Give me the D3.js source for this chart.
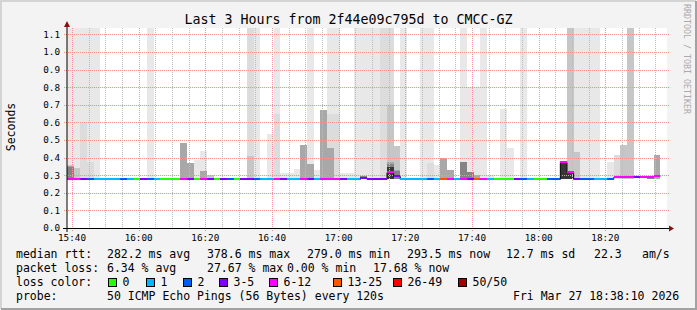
<!DOCTYPE html>
<html>
<head>
<meta charset="utf-8">
<script src="https://cdn.jsdelivr.net/npm/d3@7"></script>
<style>
  html, body { margin: 0; padding: 0; background: #f3f3f3; }
  svg { display: block; font-family: "DejaVu Sans Mono", monospace; }
</style>
</head>
<body>
<div id="chart"></div>
<script>
// 2 minute steps, 50 pings each
const stepStart = new Date(2026, 2, 27, 15, 38, 30);
const stepSeconds = 120;
const smokeFloor = 0.279;

const median = [
  0.281, 0.281, 0.281, 0.281, 0.281, 0.281, 0.281, 0.281, 0.281, 0.281,
  0.281, 0.281, 0.281, 0.281, 0.281, 0.281, 0.281, 0.281, 0.281, 0.281,
  0.281, 0.281, 0.281, 0.281, 0.281, 0.281, 0.281, 0.281, 0.281, 0.281,
  0.281, 0.281, 0.281, 0.281, 0.281, 0.281, 0.281, 0.281, 0.281, 0.281,
  0.281, 0.281, 0.281, 0.281, 0.283, 0.281, 0.281, 0.281, 0.320, 0.298,
  0.281, 0.281, 0.281, 0.281, 0.281, 0.281, 0.281, 0.281, 0.281, 0.281,
  0.281, 0.281, 0.281, 0.281, 0.281, 0.281, 0.281, 0.281, 0.281, 0.281,
  0.281, 0.281, 0.281, 0.281, 0.377, 0.320, 0.281, 0.281, 0.281, 0.281,
  0.281, 0.281, 0.291, 0.289, 0.291, 0.289, 0.291, 0.291, 0.2935
];

// lost pings out of 50
const lost = [
  8, 8, 4, 2, 1, 1, 1, 1, 2, 1,
  0, 4, 2, 1, 0, 0, 0, 8, 4, 0,
  7, 3, 0, 4, 2, 0, 4, 5, 2, 1,
  1, 6, 3, 1, 1, 9, 4, 1, 10, 8,
  7, 3, 1, 1, 4, 4, 3, 5, 11, 5,
  1, 1, 1, 1, 2, 1, 13.8, 9, 1, 10,
  5, 13, 8, 1, 0, 0, 0, 3, 2, 1,
  0, 0, 2, 2, 12, 9, 4, 2, 2, 1,
  1, 2, 7, 8, 6, 5, 7, 8, 8.8
];

// smoke: top of each ping band (seconds), 0 = no band
const pingMax = [
  1.2, 1.2, 1.2, 1.2, 1.2, 0, 0, 0, 0, 0,
  0, 0, 1.2, 0, 0, 0, 0, 0.485, 0.371, 0.386,
  0.44, 0.30, 0, 0, 0, 0, 0, 1.2, 1.2, 0,
  0.534, 1.2, 0.313, 0.313, 0.335, 0.472, 1.2, 0.33, 0.672, 1.2,
  1.2, 0.312, 0.312, 1.2, 1.2, 1.2, 1.2, 1.2, 1.2, 0.466,
  1.2, 0, 0, 1.2, 1.2, 0.358, 0.40, 0.33, 0, 1.2,
  0.80, 0.80, 1.2, 0.30, 0, 0.676, 0.456, 0, 1.2, 0,
  0, 0, 0, 0, 0.38, 1.2, 1.2, 1.2, 1.2, 1.2,
  0, 0.377, 0.415, 0.472, 1.2, 0, 0, 0.295, 0.415
];
const ping90 = [
  0.36, 0.34, 0.595, 0.377, 0, 0, 0, 0, 0, 0,
  0, 0, 0, 0, 0, 0, 0, 0.485, 0.371, 0,
  0.326, 0.30, 0, 0, 0, 0, 0, 1.2, 0, 0,
  0, 0.647, 0, 0, 0, 0.472, 0.364, 0, 0.672, 0.65,
  0.65, 0, 0, 0, 0.295, 0, 0, 1.2, 1.2, 0.466,
  0, 0, 0, 0, 0.37, 0, 0.40, 0.33, 0, 0.377,
  0.32, 0.30, 0, 0, 0, 0, 0, 0, 0, 0,
  0, 0, 0, 0, 0.38, 1.2, 0.434, 0, 0, 0,
  0, 0, 0.415, 0.472, 1.2, 0, 0, 0.295, 0.415
];
const ping75 = [
  0.36, 0.34, 0, 0, 0, 0, 0, 0, 0, 0,
  0, 0, 0, 0, 0, 0, 0, 0.485, 0.371, 0,
  0.326, 0.30, 0, 0, 0, 0, 0, 0.41, 0, 0,
  0, 0, 0, 0, 0, 0.472, 0.364, 0, 0.672, 0.456,
  0, 0, 0, 0, 0.295, 0, 0, 0, 0.70, 0.466,
  0, 0, 0, 0, 0, 0, 0.40, 0.33, 0, 0.377,
  0.32, 0.30, 0, 0, 0, 0, 0, 0, 0, 0,
  0, 0, 0, 0, 0.38, 1.2, 0.434, 0, 0, 0,
  0, 0, 0, 0.472, 1.2, 0, 0, 0.295, 0.415
];
const ping60 = [
  0.35, 0, 0, 0, 0, 0, 0, 0, 0, 0,
  0, 0, 0, 0, 0, 0, 0, 0.485, 0.371, 0,
  0.326, 0, 0, 0, 0, 0, 0, 0, 0, 0,
  0, 0, 0, 0, 0, 0.472, 0.364, 0, 0.672, 0.456,
  0, 0, 0, 0, 0.295, 0, 0, 0, 0.375, 0.33,
  0, 0, 0, 0, 0, 0, 0.40, 0.33, 0, 0.377,
  0.32, 0.30, 0, 0, 0, 0, 0, 0, 0, 0,
  0, 0, 0, 0, 0.38, 0.325, 0, 0, 0, 0,
  0, 0, 0, 0, 0, 0, 0, 0.295, 0.415
];
const ping55 = [
  0.345, 0, 0, 0, 0, 0, 0, 0, 0, 0,
  0, 0, 0, 0, 0, 0, 0, 0, 0, 0,
  0, 0, 0, 0, 0, 0, 0, 0, 0, 0,
  0, 0, 0, 0, 0, 0, 0, 0, 0, 0,
  0, 0, 0, 0, 0.295, 0, 0, 0, 0.365, 0.325,
  0, 0, 0, 0, 0, 0, 0, 0, 0, 0.377,
  0.32, 0, 0, 0, 0, 0, 0, 0, 0, 0,
  0, 0, 0, 0, 0.38, 0.325, 0, 0, 0, 0,
  0, 0, 0, 0, 0, 0, 0, 0.295, 0
];
const ping52 = [
  0, 0, 0, 0, 0, 0, 0, 0, 0, 0,
  0, 0, 0, 0, 0, 0, 0, 0, 0, 0,
  0, 0, 0, 0, 0, 0, 0, 0, 0, 0,
  0, 0, 0, 0, 0, 0, 0, 0, 0, 0,
  0, 0, 0, 0, 0, 0, 0, 0, 0.345, 0,
  0, 0, 0, 0, 0, 0, 0, 0, 0, 0,
  0, 0, 0, 0, 0, 0, 0, 0, 0, 0,
  0, 0, 0, 0, 0.38, 0.325, 0, 0, 0, 0,
  0, 0, 0, 0, 0, 0, 0, 0, 0
];

const lossLimits = [0, 1, 2, 3, 6, 13, 26, 50];
const lossLabels = ["0", "1", "2", "3-5", "6-12", "13-25", "26-49", "50/50"];
const lossColors = ["#26ff00", "#00b8ff", "#0059ff", "#7e00ff", "#ff00ff", "#ff5500", "#ff0000", "#a10000"];

const rttStats = ["282.2 ms avg", "378.6 ms max", "279.0 ms min", "293.5 ms now", "12.7 ms sd", "22.3", "am/s"];
const lossStats = ["6.34 % avg", "27.67 % max", "0.00 % min", "17.68 % now"];

const W = 697, H = 310;
const plot = { left: 67, right: 667, top: 28, bottom: 228 };
const yMax = 200 / 176;

const svg = d3.select("#chart").append("svg")
  .attr("width", W).attr("height", H)
  .attr("viewBox", [0, 0, W, H]);

const defs = svg.append("defs");

// dotted grid patterns (1 px on, 1 px off)
const dots = (id, w, h, color) => {
  const p = defs.append("pattern").attr("id", id)
    .attr("patternUnits", "userSpaceOnUse")
    .attr("width", w).attr("height", h);
  p.append("rect").attr("width", 1).attr("height", 1).attr("fill", color);
};
dots("majorV", 1, 2, "#f09494");
dots("majorH", 2, 1, "#f09494");
dots("minorV", 1, 2, "#bcbcbc");

// frame
svg.append("rect").attr("width", W).attr("height", H).attr("fill", "#f3f3f3");
svg.append("path").attr("d", `M1,${H - 1}V1H${W - 1}`).attr("fill", "none")
  .attr("stroke", "#d4d4d4").attr("stroke-width", 2);
svg.append("path").attr("d", `M1,${H - 1}H${W - 1}V1`).attr("fill", "none")
  .attr("stroke", "#a2a2a2").attr("stroke-width", 2);

const x = d3.scaleTime()
  .domain([stepStart, d3.timeHour.offset(stepStart, 3)])
  .range([plot.left, plot.right]);
const y = d3.scaleLinear().domain([0, yMax]).range([plot.bottom, plot.top]);

const stepTime = median.map((_, i) => new Date(+stepStart + i * stepSeconds * 1000));
const stepEnd = i => new Date(+stepStart + (i + 1) * stepSeconds * 1000);
const lossColor = n => lossColors[d3.bisectRight(lossLimits, n) - 1];

defs.append("clipPath").attr("id", "clip")
  .append("rect")
  .attr("x", plot.left).attr("y", plot.top)
  .attr("width", plot.right - plot.left).attr("height", plot.bottom - plot.top);

svg.append("rect")
  .attr("x", plot.left).attr("y", plot.top)
  .attr("width", plot.right - plot.left).attr("height", plot.bottom - plot.top)
  .attr("fill", "#fff");

const g = svg.append("g").attr("clip-path", "url(#clip)");

// smoke
const layers = [
  { values: pingMax, color: "#e8e8e8" },
  { values: ping90, color: "#dcdcdc" },
  { values: ping75, color: "#c6c6c6" },
  { values: ping60, color: "#a8a8a8" },
  { values: ping55, color: "#848484" },
  { values: ping52, color: "#363636" }
];
layers.forEach(layer => {
  g.append("g")
    .attr("shape-rendering", "crispEdges")
    .selectAll("rect")
    .data(layer.values.map((v, i) => ({ v, i })).filter(d => d.v > smokeFloor))
    .join("rect")
    .attr("x", d => x(stepTime[d.i]))
    .attr("width", d => x(stepEnd(d.i)) - x(stepTime[d.i]))
    .attr("y", d => y(Math.min(d.v, yMax)))
    .attr("height", d => y(smokeFloor) - y(Math.min(d.v, yMax)))
    .attr("fill", layer.color);
});

// grid
const minorTicks = x.ticks(d3.timeMinute.every(5));
const majorTicks = x.ticks(d3.timeMinute.every(20));
const yTicks = y.ticks(12);

const grid = svg.append("g").attr("shape-rendering", "crispEdges");
grid.selectAll(".minor")
  .data(minorTicks.filter(t => t.getMinutes() % 20 !== 0))
  .join("rect").attr("class", "minor")
  .attr("x", d => Math.round(x(d))).attr("width", 1)
  .attr("y", plot.top).attr("height", plot.bottom - plot.top)
  .attr("fill", "url(#minorV)");

grid.selectAll(".hmajor")
  .data(yTicks)
  .join("rect").attr("class", "hmajor")
  .attr("x", plot.left - 4).attr("width", plot.right - plot.left + 7)
  .attr("y", d => Math.round(y(d))).attr("height", 1)
  .attr("fill", "url(#majorH)");

grid.selectAll(".vmajor")
  .data(majorTicks)
  .join("rect").attr("class", "vmajor")
  .attr("x", d => Math.round(x(d))).attr("width", 1)
  .attr("y", plot.top).attr("height", plot.bottom - plot.top + 4)
  .attr("fill", "url(#majorV)");

// median with loss colour
const gm = svg.append("g").attr("clip-path", "url(#clip)");
const stepLine = d3.line()
  .x(d => x(d[0])).y(d => Math.round(y(d[1])) + 0.5)
  .curve(d3.curveStepAfter);
gm.append("path")
  .datum(median.map((m, i) => [stepTime[i], m]).concat([[stepEnd(median.length - 1), median[median.length - 1]]]))
  .attr("d", stepLine)
  .attr("fill", "none").attr("stroke", "#111").attr("stroke-width", 1);

gm.append("g")
  .attr("shape-rendering", "crispEdges")
  .selectAll("rect")
  .data(median)
  .join("rect")
  .attr("x", (d, i) => x(stepTime[i]))
  .attr("width", (d, i) => x(stepEnd(i)) - x(stepTime[i]))
  .attr("y", d => Math.round(y(d)) - 1)
  .attr("height", 2)
  .attr("fill", (d, i) => lossColor(lost[i]));

// axes
svg.append("line")
  .attr("x1", plot.left).attr("x2", plot.left)
  .attr("y1", plot.bottom + 4).attr("y2", plot.top - 5)
  .attr("stroke", "#000").attr("stroke-width", 1);
svg.append("line")
  .attr("x1", plot.left - 4).attr("x2", plot.right + 4)
  .attr("y1", plot.bottom + 0.5).attr("y2", plot.bottom + 0.5)
  .attr("stroke", "#000").attr("stroke-width", 1);
svg.append("path")
  .attr("d", `M${plot.left - 3},${plot.top - 1}L${plot.left},${plot.top - 7}L${plot.left + 3},${plot.top - 1}Z`)
  .attr("fill", "#8b0f0f");
svg.append("path")
  .attr("d", `M${plot.right + 2},${plot.bottom - 2.5}L${plot.right + 7},${plot.bottom + 0.5}L${plot.right + 2},${plot.bottom + 3.5}Z`)
  .attr("fill", "#8b0f0f");

svg.append("g")
  .selectAll("text")
  .data(yTicks)
  .join("text")
  .attr("x", plot.left - 7)
  .attr("y", d => y(d) + 3.4)
  .attr("text-anchor", "end")
  .attr("font-size", "9.3px")
  .attr("fill", "#000")
  .text(d3.format(".1f"));

svg.append("g")
  .selectAll("text")
  .data(majorTicks)
  .join("text")
  .attr("x", d => x(d))
  .attr("y", 241)
  .attr("text-anchor", "middle")
  .attr("font-size", "9.3px")
  .attr("fill", "#000")
  .text(d3.timeFormat("%H:%M"));

// titles
svg.append("text")
  .attr("x", W / 2).attr("y", 24)
  .attr("text-anchor", "middle")
  .attr("font-size", "13.3px")
  .attr("fill", "#000")
  .text("Last 3 Hours from 2f44e09c795d to CMCC-GZ");

svg.append("text")
  .attr("transform", "translate(15,127) rotate(-90)")
  .attr("text-anchor", "middle")
  .attr("font-size", "11.5px")
  .attr("fill", "#000")
  .text("Seconds");

svg.append("text")
  .attr("transform", "translate(684,4) rotate(90)")
  .attr("font-size", "8.3px")
  .attr("fill", "#aaa")
  .text("RRDTOOL / TOBI OETIKER");

// legend
const legend = svg.append("g").attr("font-size", "11.5px").attr("fill", "#000");
const row = (yPos, items) => items.forEach(([px, t]) =>
  legend.append("text").attr("x", px).attr("y", yPos).attr("xml:space", "preserve").text(t));

row(258, [[16, "median rtt:"], [107, rttStats[0]], [207, rttStats[1]], [307, rttStats[2]],
  [407, rttStats[3]], [506, rttStats[4]], [594, rttStats[5]], [642, rttStats[6]]]);
row(272, [[16, "packet loss:"], [107, lossStats[0]], [207, lossStats[1]], [287, lossStats[2]], [373, lossStats[3]]]);
row(286, [[16, "loss color:"]]);
row(300, [[16, "probe:"], [107, "50 ICMP Echo Pings (56 Bytes) every 120s"], [513, "Fri Mar 27 18:38:10 2026"]]);

const swatchX = [108, 146, 183, 219, 269, 333, 393, 458];
lossLabels.forEach((lab, i) => {
  legend.append("rect")
    .attr("x", swatchX[i] + 0.5).attr("y", 278.5)
    .attr("width", 8).attr("height", 8)
    .attr("fill", lossColors[i]).attr("stroke", "#000").attr("stroke-width", 1);
  legend.append("text").attr("x", swatchX[i] + 14.5).attr("y", 286).text(lab);
});
</script>
</body>
</html>
